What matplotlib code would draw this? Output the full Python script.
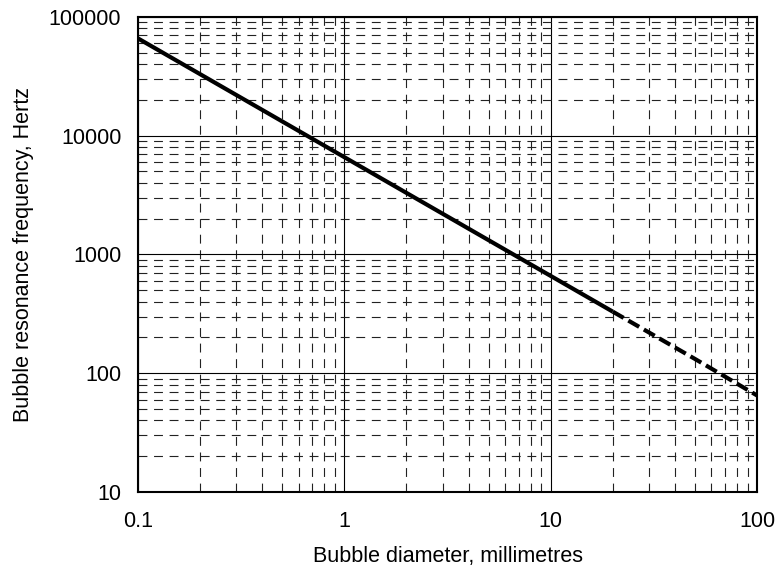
import matplotlib
matplotlib.use("Agg")
import matplotlib.pyplot as plt
from matplotlib.ticker import LogLocator, FixedLocator, NullFormatter

plt.rcParams["font.family"] = ["Liberation Sans", "DejaVu Sans"]

# bubble diameter (mm) vs Minnaert resonance frequency (Hz)
diam_solid = [0.1, 0.2, 0.5, 1, 2, 5, 10, 20]
freq_solid = [66000, 33000, 13200, 6600, 3300, 1320, 660, 330]
diam_dashed = [20, 50, 100]
freq_dashed = [330, 132, 65]

x_ticks = [0.1, 1, 10, 100]
x_labels = ["0.1", "1", "10", "100"]
y_ticks = [10, 100, 1000, 10000, 100000]
y_labels = ["10", "100", "1000", "10000", "100000"]

fig = plt.figure(figsize=(7.77, 5.72), dpi=100)
ax = fig.add_axes([0.1776, 0.1399, 0.7967, 0.8304])

ax.set_xscale("log")
ax.set_yscale("log")
ax.set_xlim(0.1, 100)
ax.set_ylim(10, 100000)

ax.plot(diam_solid, freq_solid, color="black", lw=3, solid_capstyle="butt")
ax.plot(diam_dashed, freq_dashed, color="black", lw=3, dashes=(3, 1.3))

ax.xaxis.set_major_locator(FixedLocator(x_ticks))
ax.yaxis.set_major_locator(FixedLocator(y_ticks))
ax.set_xticklabels(x_labels)
ax.set_yticklabels(y_labels)
ax.xaxis.set_minor_locator(LogLocator(base=10, subs=range(2, 10)))
ax.yaxis.set_minor_locator(LogLocator(base=10, subs=range(2, 10)))
ax.xaxis.set_minor_formatter(NullFormatter())
ax.yaxis.set_minor_formatter(NullFormatter())

ax.grid(which="major", color="black", lw=0.8, ls="-")
ax.grid(which="minor", color="#222222", lw=0.8, ls=(0, (8, 6)))
ax.tick_params(which="both", length=0, labelsize=15.5, colors="black")
ax.tick_params(axis="x", pad=14)
ax.tick_params(axis="y", pad=12)

for s in ax.spines.values():
    s.set_linewidth(1.5)
    s.set_color("black")

ax.set_xlabel("Bubble diameter, millimetres", fontsize=15.5, labelpad=10)
ax.set_ylabel("Bubble resonance frequency, Hertz", fontsize=15.5, labelpad=11)

fig.savefig("out.png", dpi=100)
